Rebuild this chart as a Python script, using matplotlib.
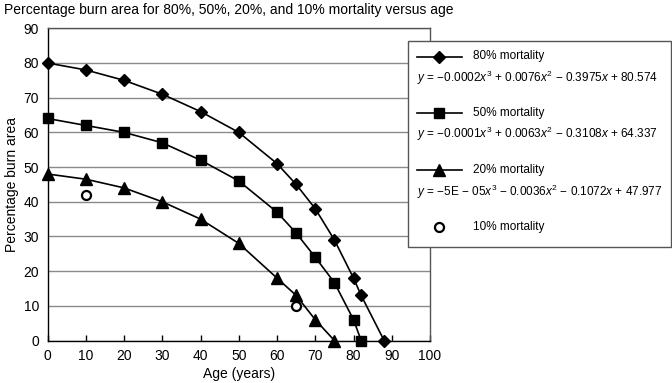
import matplotlib
matplotlib.use("Agg")
import matplotlib.pyplot as plt
from matplotlib.lines import Line2D
from matplotlib.patches import Rectangle

plt.rcParams['font.family'] = ['Liberation Sans', 'DejaVu Sans']
plt.rcParams['mathtext.fontset'] = 'custom'
plt.rcParams['mathtext.it'] = 'Liberation Sans:italic'
plt.rcParams['mathtext.rm'] = 'Liberation Sans'

age80 = [0, 10, 20, 30, 40, 50, 60, 65, 70, 75, 80, 82, 88]
burn80 = [80, 78, 75, 71, 66, 60, 51, 45, 38, 29, 18, 13, 0]
age50 = [0, 10, 20, 30, 40, 50, 60, 65, 70, 75, 80, 82]
burn50 = [64, 62, 60, 57, 52, 46, 37, 31, 24, 16.7, 6, 0]
age20 = [0, 10, 20, 30, 40, 50, 60, 65, 70, 75]
burn20 = [48, 46.5, 44, 40, 35, 28, 18, 13, 6, 0]
age10 = [10, 65]
burn10 = [42, 10]

labels = ["80% mortality", "50% mortality", "20% mortality", "10% mortality"]
equations = [
    r"$y$ = −0.0002$x^3$ + 0.0076$x^2$ − 0.3975$x$ + 80.574",
    r"$y$ = −0.0001$x^3$ + 0.0063$x^2$ − 0.3108$x$ + 64.337",
    r"$y$ = −5E − 05$x^3$ − 0.0036$x^2$ − 0.1072$x$ + 47.977",
]
xticks = list(range(0, 101, 10))
yticks = list(range(0, 91, 10))

W, H = 672, 383
fig = plt.figure(figsize=(W / 100, H / 100), dpi=100)
ax = fig.add_axes([47.5 / W, 1 - 340.5 / H, (430 - 47.5) / W, (340.5 - 28.3) / H])

ax.plot(age80, burn80, color='black', lw=1.2, marker='D', ms=6.5, clip_on=False, zorder=3)
ax.plot(age50, burn50, color='black', lw=1.2, marker='s', ms=7.5, clip_on=False, zorder=3)
ax.plot(age20, burn20, color='black', lw=1.2, marker='^', ms=8.5, clip_on=False, zorder=3)
ax.plot(age10, burn10, linestyle='none', marker='o', ms=6.5, mfc='white', mec='black',
        mew=1.6, clip_on=False, zorder=3)

ax.set_xlim(0, 100)
ax.set_ylim(0, 90)
ax.set_xticks(xticks)
ax.set_yticks(yticks)
ax.tick_params(axis='x', direction='in', length=4.5, width=1, labelsize=10, pad=6, color='black')
ax.tick_params(axis='y', length=0, labelsize=10, pad=6)
ax.grid(axis='y', color='#8a8a8a', lw=1)
ax.set_axisbelow(True)
for s in ['top', 'right']:
    ax.spines[s].set_color('#555555')
    ax.spines[s].set_linewidth(1)
for s in ['left', 'bottom']:
    ax.spines[s].set_color('black')
    ax.spines[s].set_linewidth(1)

ax.set_xlabel("Age (years)", fontsize=10, labelpad=3)
ax.set_ylabel("Percentage burn area", fontsize=10, labelpad=3)

fig.text(4 / W, 1 - 10 / H, "Percentage burn area for 80%, 50%, 20%, and 10% mortality versus age",
         fontsize=10, va='center', ha='left')

# Legend box
def fx(px):
    return px / W

def fy(py):
    return 1 - py / H

rect = Rectangle((fx(408), fy(246.5)), fx(671) - fx(408), fy(41) - fy(246.5),
                 transform=fig.transFigure, facecolor='white', edgecolor='#555555', lw=1, zorder=10)
fig.add_artist(rect)

markers = [('D', 6.5), ('s', 7.5), ('^', 8.5)]
entry_y = [56.5, 113, 170]
eq_y = [77.5, 134, 192]
for (m, ms), yy, eqy, lab, eq in zip(markers, entry_y, eq_y, labels, equations):
    ln = Line2D([fx(417), fx(462)], [fy(yy), fy(yy)], transform=fig.transFigure,
                color='black', lw=1.2, zorder=11)
    fig.add_artist(ln)
    mk = Line2D([fx(439.5)], [fy(yy)], transform=fig.transFigure, color='black',
                marker=m, ms=ms, linestyle='none', zorder=12)
    fig.add_artist(mk)
    fig.text(fx(473), fy(yy), lab, fontsize=8.5, va='center', ha='left', zorder=12)
    fig.text(fx(417), fy(eqy), eq, fontsize=8.5, va='center', ha='left', zorder=12)

mk = Line2D([fx(439.5)], [fy(227)], transform=fig.transFigure, marker='o', ms=6.5,
            mfc='white', mec='black', mew=1.6, linestyle='none', zorder=12)
fig.add_artist(mk)
fig.text(fx(473), fy(227), labels[3], fontsize=8.5, va='center', ha='left', zorder=12)

fig.savefig("out.png", dpi=100)
